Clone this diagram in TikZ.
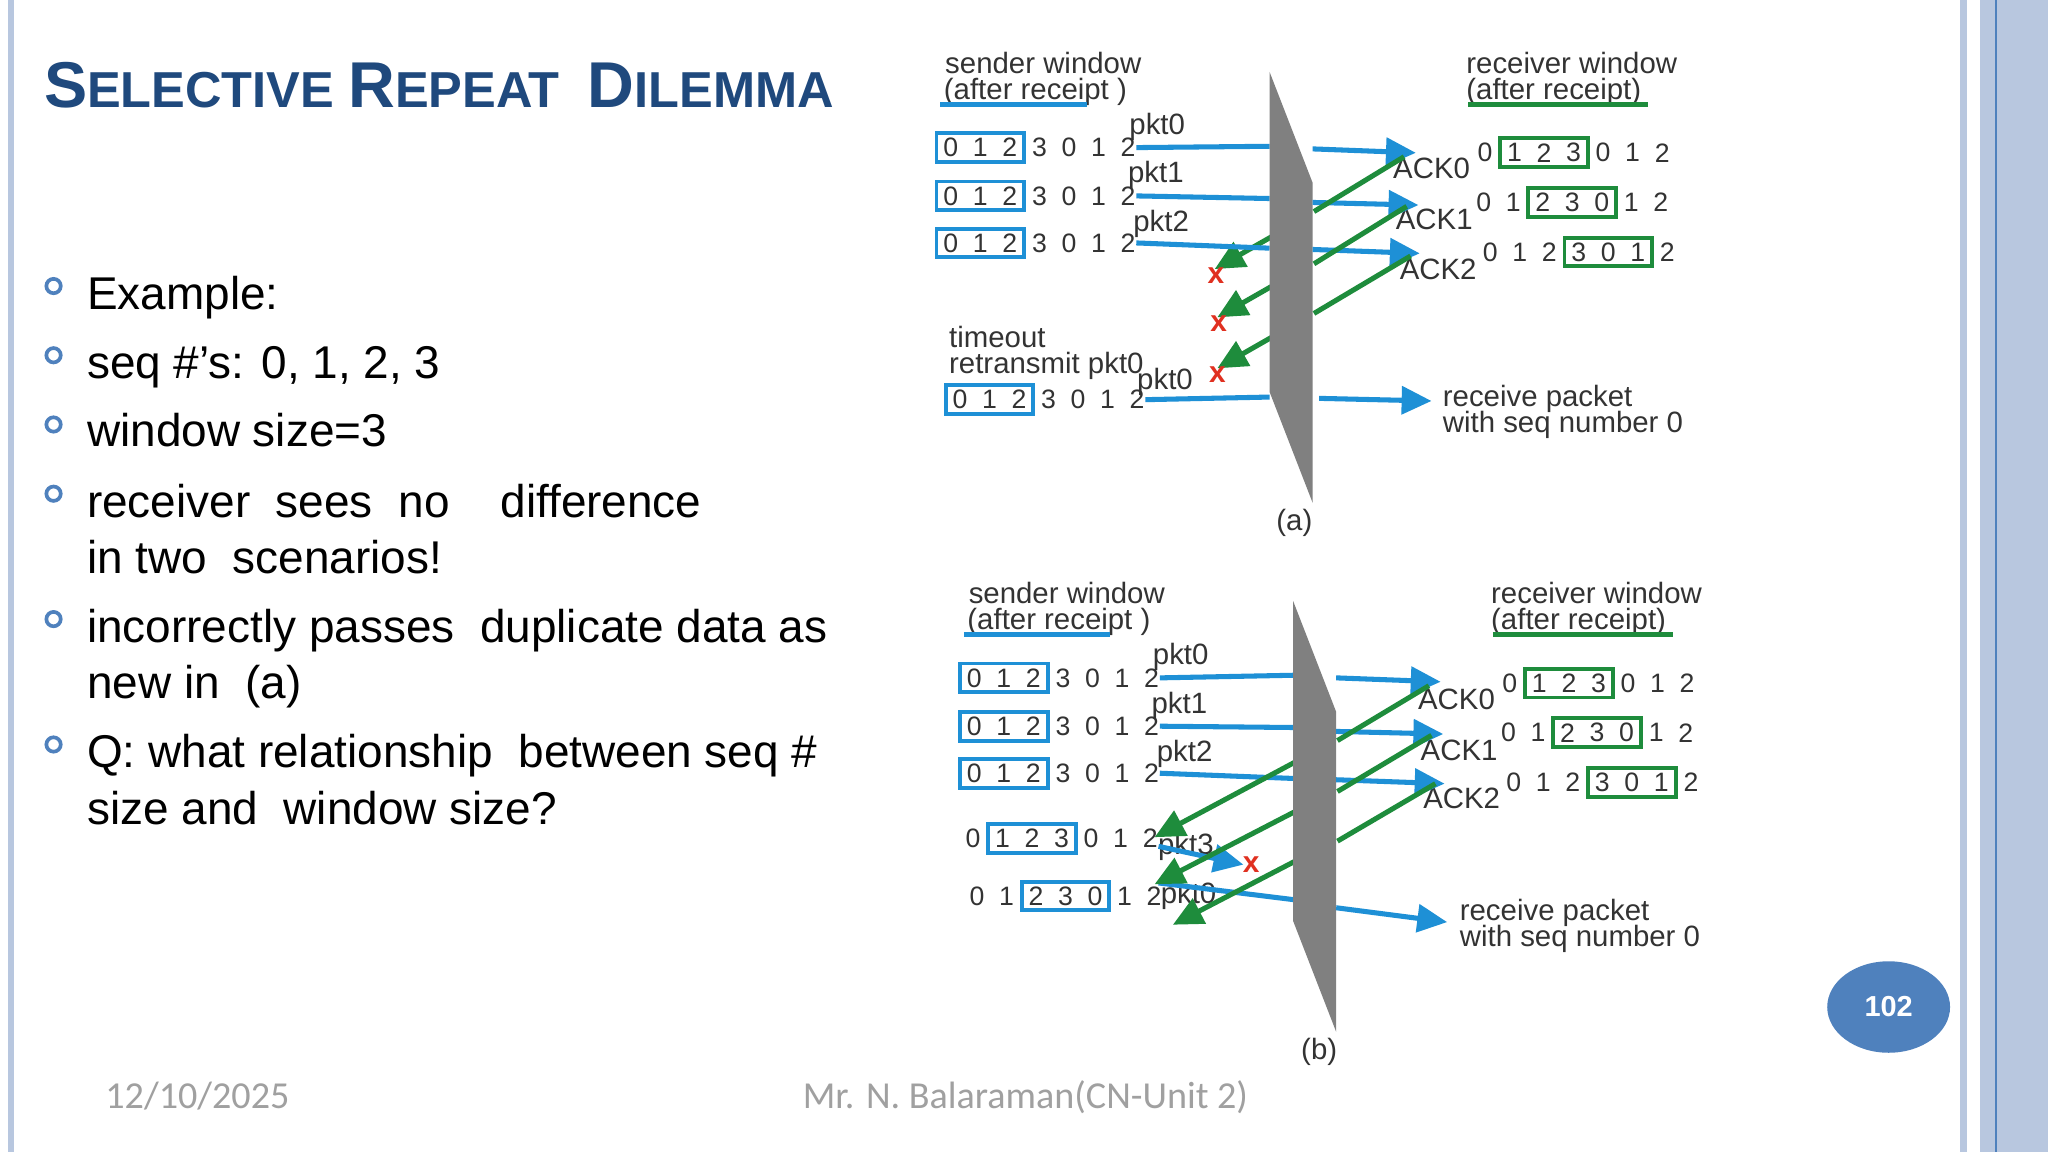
\documentclass[tikz,border=0pt]{standalone}
\usepackage{fontspec}
\setmainfont{Liberation Sans}
\newfontfamily\footfont{Carlito}
\usetikzlibrary{arrows.meta,shapes.geometric}
\definecolor{tblue}{HTML}{1F497D}
\definecolor{accent}{HTML}{4F81BD}
\definecolor{band}{HTML}{B8C7DF}
\definecolor{pblue}{HTML}{1E90D6}
\definecolor{pgreen}{HTML}{1E8C3C}
\definecolor{xred}{HTML}{E03020}
\definecolor{foot}{HTML}{A0A0A0}
\newcommand{\dsz}{\fontsize{5.8pt}{6.8pt}\selectfont}
\newcommand{\hsz}{\fontsize{6.4pt}{7.4pt}\selectfont}
\newcommand{\digrow}[7]{%
  \foreach \d [count=\i from 0] in {#4} {
    \node[digit] (#1d\i) at ({#2+22.6*\i},#3) {\d};
  }
  \draw[#7, line width=0.85pt] ({#2+22.6*#5-11},{#3-11}) rectangle ({#2+22.6*#6+11},{#3+11});
}
\tikzset{
  digit/.style={inner sep=0pt, font=\dsz, text=black!80},
  lab/.style={inner sep=0pt, anchor=base west, font=\hsz, text=black!80},
  body/.style={inner sep=0pt, anchor=base west, font=\fontsize{10pt}{12pt}\selectfont},
  pkt/.style={pblue, line width=1.1pt},
  pkta/.style={pblue, line width=1.1pt, -{Triangle[length=6.5pt,width=6pt]}},
  ack/.style={pgreen, line width=1.1pt},
  acka/.style={pgreen, line width=1.1pt, -{Triangle[length=6.5pt,width=6pt]}},
  wall/.style={fill=black!50, draw=none},
  xmark/.style={inner sep=0pt, text=xred, font=\bfseries\fontsize{6.5pt}{7pt}\selectfont},
  bul/.style={draw=accent, line width=0.8pt, circle, minimum size=0.11cm, inner sep=0pt},
  footer/.style={inner sep=0pt, anchor=base west, text=foot, font=\footfont\fontsize{8.3pt}{9pt}\selectfont}
}
\begin{document}
\begin{tikzpicture}[x=0.01cm,y=-0.01cm]
\useasboundingbox (0,0) rectangle (1568,882);
\fill[white] (0,0) rectangle (1568,882);
% borders
\fill[band] (6,0) rectangle (11,882);
\fill[band] (1501,0) rectangle (1506,882);
\fill[band] (1516,0) rectangle (1568,882);
\draw[accent, line width=0.4pt] (1528,0) -- (1528,882);
% title
\node[inner sep=0pt, anchor=base west, text=tblue, font=\bfseries] (title) at (33,82)
 {{\fontsize{14.1pt}{16pt}\selectfont S}{\fontsize{11pt}{13pt}\selectfont ELECTIVE }{\fontsize{14.1pt}{16pt}\selectfont R}{\fontsize{11pt}{13pt}\selectfont EPEAT\ \ }{\fontsize{14.1pt}{16pt}\selectfont D}{\fontsize{11pt}{13pt}\selectfont ILEMMA}};
% bullets
\foreach \y [count=\k] in {219,272,325,378,474,570} \node[bul] (b\k) at (41,\y) {};
\node[body] (t1) at (66,237) {Example:};
\node[body] (t2) at (66,290) {seq \#’s: 0, 1, 2, 3};
\node[body] (t3) at (66,342) {window size=3};
\node[body] (t4) at (66,396) {receiver\ \ sees\ \ no\ \ \ \ difference};
\node[body] (t5) at (66,439) {in two\ \ scenarios!};
\node[body] (t6) at (66,492) {incorrectly passes\ \ duplicate data as};
\node[body] (t7) at (66,535) {new in\ \ (a)};
\node[body] (t8) at (66,588) {Q: what relationship\ \ between seq \#};
\node[body] (t9) at (66,631) {size and\ \ window size?};
% footer
\node[footer] (date) at (80,849) {12/10/2025};
\node[footer] (auth) at (614,849) {Mr. N. Balaraman(CN-Unit 2)};
\node[ellipse, fill=accent, minimum width=0.94cm, minimum height=0.7cm, inner sep=0pt, text=white, font=\bfseries\fontsize{6.3pt}{7pt}\selectfont] (pg) at (1446,771) {102};

% ================= (a) =================
\node[lab] (asw) at (723,56) {sender window};
\node[lab] (asr) at (722,76) {(after receipt )};
\draw[pblue, line width=1pt] (720,80) -- (832,80);
\node[lab] (arw) at (1122,56) {receiver window};
\node[lab] (arr) at (1122,76) {(after receipt)};
\draw[pgreen, line width=1pt] (1124,80) -- (1262,80);
\digrow{as1}{728}{113}{0,1,2,3,0,1,2}{0}{2}{pblue}
\digrow{as2}{728}{150}{0,1,2,3,0,1,2}{0}{2}{pblue}
\digrow{as3}{728}{186}{0,1,2,3,0,1,2}{0}{2}{pblue}
\digrow{as4}{735}{306}{0,1,2,3,0,1,2}{0}{2}{pblue}
\digrow{ar1}{1137}{117}{0,1,2,3,0,1,2}{1}{3}{pgreen}
\digrow{ar2}{1136}{155}{0,1,2,3,0,1,2}{2}{4}{pgreen}
\digrow{ar3}{1141}{193}{0,1,2,3,0,1,2}{3}{5}{pgreen}
\node[lab] (ap0) at (864,103) {pkt0};
\node[lab] (ap1) at (863,140) {pkt1};
\node[lab] (ap2) at (867,177) {pkt2};
\node[lab] (ato) at (726,266) {timeout};
\node[lab] (art) at (726,286) {retransmit pkt0};
\node[lab] (ap0r) at (870,298) {pkt0};
\node[lab] (aa0) at (1066,137) {ACK0};
\node[lab] (aa1) at (1068,176) {ACK1};
\node[lab] (aa2) at (1071,214) {ACK2};
\node[lab] (arc) at (1104,311) {receive packet};
\node[lab] (arc2) at (1104,331) {with seq number 0};
\node[inner sep=0pt, font=\hsz, text=black!80] (acap) at (991,400) {(a)};
\draw[acka] (981,177) -- (930,206);
\draw[acka] (981,215) -- (932,243);
\draw[acka] (981,254) -- (932,282);
\node[xmark] (ax1) at (931,211) {x};
\node[xmark] (ax2) at (933,248) {x};
\node[xmark] (ax3) at (932,287) {x};
\draw[pkt] (as1d6.east) -- (972,112);
\draw[pkt] (as2d6.east) -- (972,152);
\draw[pkt] (as3d6.east) -- (972,190);
\draw[pkt] (as4d6.east) -- (972,304);
\fill[wall] (972,55) -- (1005,140) -- (1005,385) -- (972,300) -- cycle;
\draw[pkta] (1005,114) -- (1084,117);
\draw[pkta] (1005,155) -- (1086,157);
\draw[pkta] (1005,191) -- (1087,194);
\draw[pkta] (1010,305) -- (1096,307);
\draw[ack] (1075,120) -- (1006,162);
\draw[ack] (1077,158) -- (1006,202);
\draw[ack] (1080,196) -- (1006,240);

% ================= (b) =================
\node[lab] (bsw) at (741,462) {sender window};
\node[lab] (bsr) at (740,482) {(after receipt )};
\draw[pblue, line width=1pt] (738,486) -- (850,486);
\node[lab] (brw) at (1141,462) {receiver window};
\node[lab] (brr) at (1141,482) {(after receipt)};
\draw[pgreen, line width=1pt] (1143,486) -- (1281,486);
\digrow{bs1}{746}{519}{0,1,2,3,0,1,2}{0}{2}{pblue}
\digrow{bs2}{746}{556}{0,1,2,3,0,1,2}{0}{2}{pblue}
\digrow{bs3}{746}{592}{0,1,2,3,0,1,2}{0}{2}{pblue}
\digrow{bs4}{745}{642}{0,1,2,3,0,1,2}{1}{3}{pblue}
\digrow{bs5}{748}{686}{0,1,2,3,0,1,2}{2}{4}{pblue}
\digrow{br1}{1156}{523}{0,1,2,3,0,1,2}{1}{3}{pgreen}
\digrow{br2}{1155}{561}{0,1,2,3,0,1,2}{2}{4}{pgreen}
\digrow{br3}{1159}{599}{0,1,2,3,0,1,2}{3}{5}{pgreen}
\node[lab] (bp0) at (882,509) {pkt0};
\node[lab] (bp1) at (881,546) {pkt1};
\node[lab] (bp2) at (885,583) {pkt2};
\node[lab] (bp3) at (886,654) {pkt3};
\node[lab] (bp0r) at (888,692) {pkt0};
\node[lab] (ba0) at (1085,543) {ACK0};
\node[lab] (ba1) at (1087,582) {ACK1};
\node[lab] (ba2) at (1089,619) {ACK2};
\node[lab] (brc) at (1117,705) {receive packet};
\node[lab] (brc2) at (1117,725) {with seq number 0};
\node[inner sep=0pt, font=\hsz, text=black!80] (bcap) at (1010,805) {(b)};
\draw[pkt] (bs1d6.east) -- (990,517);
\draw[pkt] (bs2d6.east) -- (990,557);
\draw[pkt] (bs3d6.east) -- (990,596);
\coordinate (p3s) at (887,648);
\coordinate (p3e) at (952,662);
\draw[pkta] (p3s) -- (p3e);
\node[xmark] (bx1) at (958,662) {x};
\draw[pkt] (887,676) -- (1000,690);
\draw[acka] (998,580) -- (884,641);
\draw[acka] (998,618) -- (884,677);
\draw[acka] (998,656) -- (898,708);
\fill[wall] (990,460) -- (1023,545) -- (1023,790) -- (990,705) -- cycle;
\draw[pkta] (1023,519) -- (1103,522);
\draw[pkta] (1023,560) -- (1105,562);
\draw[pkta] (1023,597) -- (1106,600);
\draw[pkta] (1023,695) -- (1108,706);
\draw[ack] (1094,525) -- (1024,567);
\draw[ack] (1096,563) -- (1024,606);
\draw[ack] (1099,600) -- (1024,644);
\end{tikzpicture}
\end{document}
